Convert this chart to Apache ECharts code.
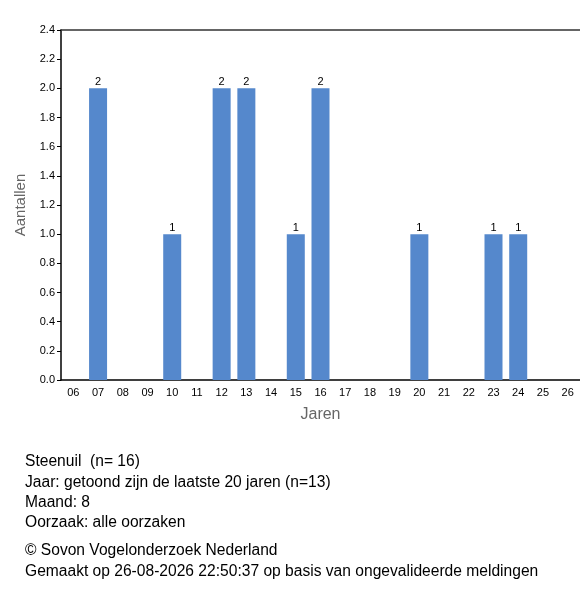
<!DOCTYPE html>
<html style="height: 100%">
<head>
<meta charset="utf-8">
</head>
<body style="height: 100%; margin: 0">
<div id="container" style="width: 580px; height: 600px"></div>
<script src="https://cdn.jsdelivr.net/npm/echarts@6/dist/echarts.min.js"></script>
<script type="text/javascript">
var years = ['06','07','08','09','10','11','12','13','14','15','16','17','18','19','20','21','22','23','24','25','26'];
var counts = [0, 2, 0, 0, 1, 0, 2, 2, 0, 1, 2, 0, 0, 0, 1, 0, 0, 1, 1, 0, 0];
var infoLines = [
    'Steenuil  (n= 16)',
    'Jaar: getoond zijn de laatste 20 jaren (n=13)',
    'Maand: 8',
    'Oorzaak: alle oorzaken'
];
var footerLines = [
    '\u00a9 Sovon Vogelonderzoek Nederland',
    'Gemaakt op 26-08-2026 22:50:37 op basis van ongevalideerde meldingen'
];

var font = 'Liberation Sans, Arial, sans-serif';
var myChart = echarts.init(document.getElementById('container'));

var texts = [];
infoLines.forEach(function (t, i) {
    texts.push({ type: 'text', left: 25, top: 454 + i * 20.3,
        style: { text: t, fill: '#000', font: '15.6px ' + font } });
});
footerLines.forEach(function (t, i) {
    texts.push({ type: 'text', left: 25, top: 543 + i * 20.3,
        style: { text: t, fill: '#000', font: '15.6px ' + font } });
});

var option = {
    animation: false,
    grid: { left: 61, top: 30, right: 0, bottom: 220 },
    graphic: texts,
    xAxis: [{
        type: 'category',
        data: years,
        name: 'Jaren',
        nameLocation: 'middle',
        nameGap: 27,
        nameTextStyle: { color: '#666', fontSize: 16, fontFamily: font },
        axisLine: { lineStyle: { color: '#000', width: 1.5 } },
        axisTick: { alignWithLabel: true, length: 5, lineStyle: { color: '#000' } },
        axisLabel: { color: '#000', fontSize: 11, fontFamily: font, margin: 7, interval: 0 }
    }, {
        type: 'category',
        data: years,
        position: 'top',
        axisLine: { lineStyle: { color: '#333', width: 1.5 } },
        axisTick: { show: false },
        axisLabel: { show: false }
    }],
    yAxis: {
        type: 'value',
        min: 0,
        max: 2.4,
        interval: 0.2,
        name: 'Aantallen',
        nameLocation: 'middle',
        nameGap: 28,
        nameTextStyle: { color: '#666', fontSize: 15, fontFamily: font },
        splitLine: { show: false },
        axisLine: { show: true, lineStyle: { color: '#000', width: 1.5 } },
        axisTick: { show: true, length: 4, lineStyle: { color: '#000' } },
        axisLabel: { color: '#000', fontSize: 11, fontFamily: font, margin: 6,
            formatter: function (v) { return v.toFixed(1); } }
    },
    series: [{
        type: 'bar',
        data: counts,
        barWidth: 18,
        itemStyle: { color: '#5588cc' },
        label: {
            show: true,
            position: 'top',
            distance: 1,
            color: '#000',
            fontSize: 11,
            fontFamily: font,
            formatter: function (p) { return p.value > 0 ? p.value : ''; }
        }
    }]
};
myChart.setOption(option);
</script>
</body>
</html>
